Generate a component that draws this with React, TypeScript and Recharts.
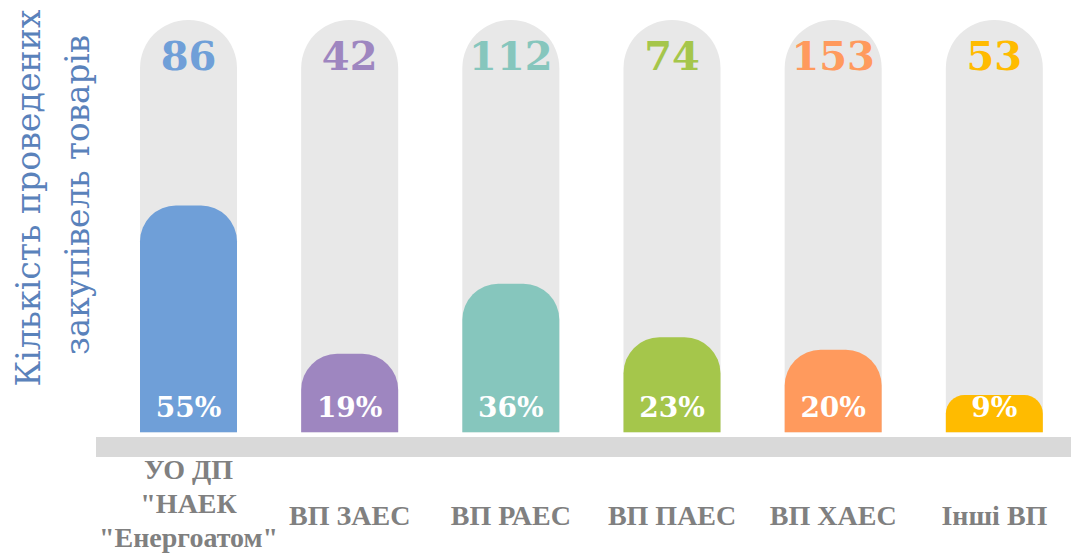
import React from 'react';
import { BarChart, Bar, XAxis, YAxis, Cell, LabelList } from 'recharts';

const categories = ['УО ДП\n"НАЕК\n"Енергоатом"', 'ВП ЗАЕС', 'ВП РАЕС', 'ВП ПАЕС', 'ВП ХАЕС', 'Інші ВП'];
const counts = [86, 42, 112, 74, 153, 53];
const shares = [55, 19, 36, 23, 20, 9];
const fullScale = [100, 100, 100, 100, 100, 100];
const colors = ['#6f9fd8', '#9e86c0', '#86c6bd', '#a5c64b', '#ff9a5d', '#ffbb00'];
const titleLines = ['Кількість проведених', 'закупівель товарів'];

const data = categories.map((c, i) => ({
  name: c,
  count: counts[i],
  share: shares[i],
  full: fullScale[i],
  color: colors[i],
}));

const Tick = (props: any) => {
  const { x, y, payload } = props;
  const lines: string[] = String(payload.value).split('\n');
  const lh = 34;
  const center = lines.length > 1 ? y + 56 : y + 68;
  const start = center - ((lines.length - 1) * lh) / 2;
  return (
    <text
      x={x}
      y={start}
      textAnchor="middle"
      dominantBaseline="central"
      fill="#808080"
      style={{ fontFamily: 'Liberation Serif', fontWeight: 700, fontSize: 28 }}
    >
      {lines.map((l, i) => (
        <tspan key={i} x={x} y={start + i * lh}>
          {l}
        </tspan>
      ))}
    </text>
  );
};

const CountLabel = (props: any) => {
  const { x, y, width, value, index } = props;
  return (
    <text
      x={x + width / 2}
      y={y + 35}
      textAnchor="middle"
      dominantBaseline="central"
      fill={colors[index]}
      style={{ fontFamily: 'DejaVu Serif', fontWeight: 700, fontSize: 40 }}
    >
      {value}
    </text>
  );
};

const ShareLabel = (props: any) => {
  const { x, y, width, height, value } = props;
  return (
    <text
      x={x + width / 2}
      y={y + height - 25}
      textAnchor="middle"
      dominantBaseline="central"
      fill="#ffffff"
      style={{ fontFamily: 'DejaVu Serif', fontWeight: 700, fontSize: 28 }}
    >
      {value}%
    </text>
  );
};

export default function App() {
  return (
    <div style={{ position: 'absolute', left: 0, top: 0, width: 1071, height: 556, background: '#fff' }}>
      <BarChart
        width={1071}
        height={556}
        data={data}
        margin={{ top: 20, right: 0, bottom: 9, left: 96 }}
        barGap={-97}
        barCategoryGap={0}
      >
        <YAxis hide type="number" domain={[-3.6, 100]} allowDataOverflow />
        <XAxis
          dataKey="name"
          height={100}
          interval={0}
          axisLine={{ stroke: '#d9d9d9', strokeWidth: 20 }}
          tickLine={false}
          tickSize={0}
          tickMargin={0}
          padding={{ left: 12, right: -4 }}
          tick={<Tick />}
        />
        <Bar dataKey="full" barSize={97} fill="#e8e8e8" radius={[48, 48, 0, 0]} isAnimationActive={false}>
          <LabelList dataKey="count" content={<CountLabel />} />
        </Bar>
        <Bar dataKey="share" barSize={97} radius={[36, 36, 0, 0]} isAnimationActive={false}>
          {data.map((d, i) => (
            <Cell key={i} fill={d.color} />
          ))}
          <LabelList dataKey="share" content={<ShareLabel />} />
        </Bar>
      </BarChart>
      <svg
        width={110}
        height={420}
        style={{ position: 'absolute', left: 0, top: 0, pointerEvents: 'none' }}
      >
        <text
          x={28}
          y={198}
          transform="rotate(-90 28 198)"
          textAnchor="middle"
          dominantBaseline="central"
          fill="#5a82bb"
          style={{ fontFamily: 'DejaVu Serif', fontSize: 33 }}
          textLength={377}
          lengthAdjust="spacingAndGlyphs"
        >
          {titleLines[0]}
        </text>
        <text
          x={77}
          y={195}
          transform="rotate(-90 77 195)"
          textAnchor="middle"
          dominantBaseline="central"
          fill="#5a82bb"
          style={{ fontFamily: 'DejaVu Serif', fontSize: 33 }}
          textLength={320}
          lengthAdjust="spacingAndGlyphs"
        >
          {titleLines[1]}
        </text>
      </svg>
    </div>
  );
}
